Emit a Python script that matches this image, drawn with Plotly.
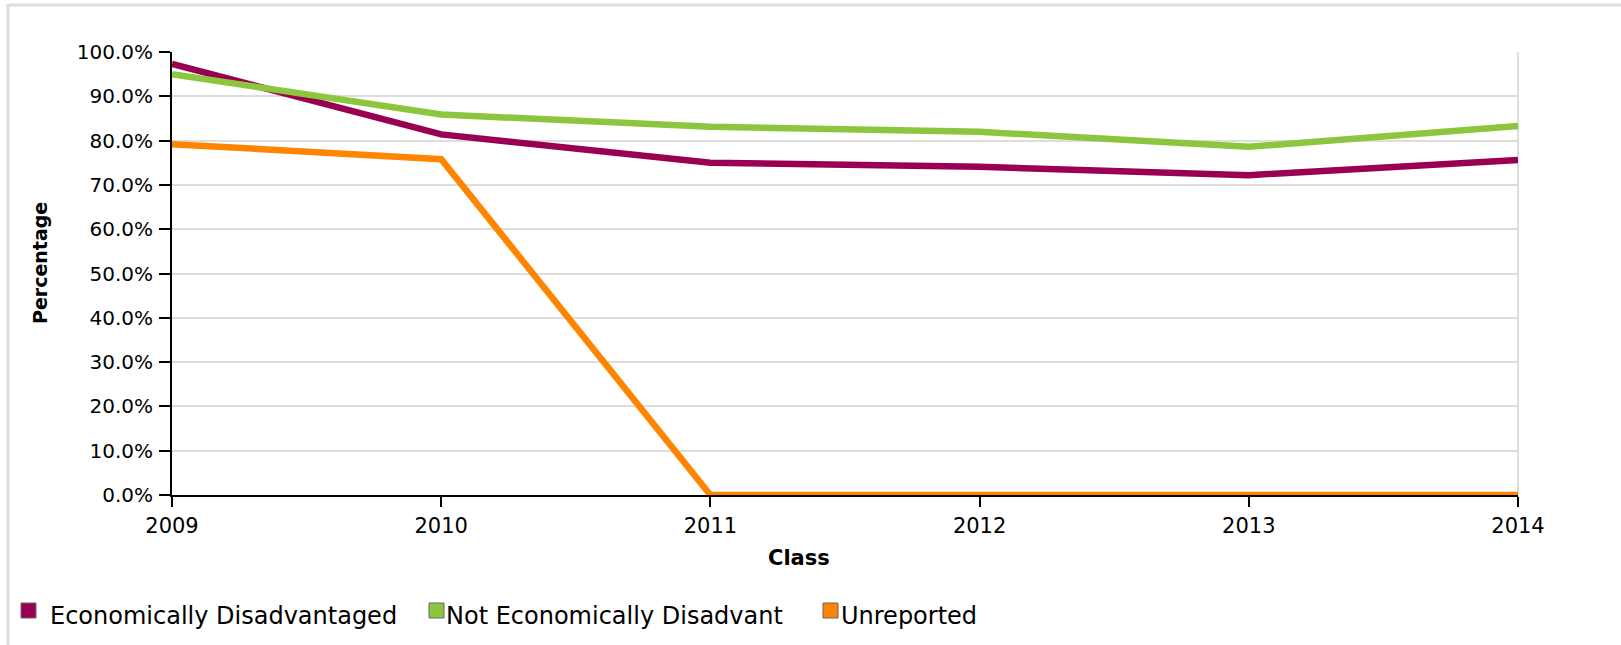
import plotly.graph_objects as go

years = [2009, 2010, 2011, 2012, 2013, 2014]
econ_dis = [97.3, 81.4, 75.0, 74.1, 72.2, 75.6]
not_econ_dis = [95.0, 85.9, 83.1, 82.0, 78.6, 83.3]
unreported = [79.2, 75.8, 0.0, 0.0, 0.0, 0.0]

series_names = ["Economically Disadvantaged", "Not Economically Disadvant", "Unreported"]
series_colors = ["#990052", "#8cc63f", "#ff8400"]
y_ticks = [0, 10, 20, 30, 40, 50, 60, 70, 80, 90, 100]

W, H = 1621, 645
L, R, T, B = 172, 103, 52, 150
pw, ph = W - L - R, H - T - B

def px_x(p):
    return (p - L) / pw

def px_y(p):
    return (H - B - p) / ph

fig = go.Figure()
for name, vals, col in zip(series_names, [econ_dis, not_econ_dis, unreported], series_colors):
    fig.add_trace(go.Scatter(x=years, y=vals, mode="lines", name=name,
                             line=dict(color=col, width=6.5), cliponaxis=False,
                             showlegend=False, hoverinfo="skip"))

font_main = "DejaVu Sans"

# manual legend (square swatch + label), positions in page pixels
legend_sq_left = [21, 429, 823]
legend_txt_left = [48, 444, 839]
sq = 15
sq_top = 603
txt_mid = 616

shapes = [
    dict(type="line", xref="paper", yref="paper", x0=1, x1=1, y0=0, y1=1,
         line=dict(color="#dddddd", width=2), layer="below"),
    dict(type="line", xref="paper", yref="paper", x0=px_x(8), x1=px_x(8),
         y0=px_y(4), y1=px_y(660), line=dict(color="#dddddd", width=3)),
    dict(type="line", xref="paper", yref="paper", x0=px_x(8), x1=px_x(1640),
         y0=px_y(5), y1=px_y(5), line=dict(color="#dddddd", width=3)),
]
annotations = [
    dict(text="<b>Percentage</b>", textangle=-90, xref="paper", yref="paper",
         x=px_x(40), y=px_y(263), showarrow=False, font=dict(size=19),
         xanchor="center", yanchor="middle"),
    dict(text="<b>Class</b>", xref="paper", yref="paper",
         x=px_x(799), y=px_y(558), showarrow=False, font=dict(size=21),
         xanchor="center", yanchor="middle"),
]
for name, col, sl, tl in zip(series_names, series_colors, legend_sq_left, legend_txt_left):
    shapes.append(dict(type="rect", xref="paper", yref="paper",
                       x0=px_x(sl), x1=px_x(sl + sq), y0=px_y(sq_top + sq), y1=px_y(sq_top),
                       fillcolor=col, line=dict(color="#666666", width=1)))
    annotations.append(dict(text=name, xref="paper", yref="paper", x=px_x(tl), y=px_y(txt_mid),
                            xanchor="left", yanchor="middle", showarrow=False,
                            font=dict(family=font_main, size=24, color="black")))

fig.update_layout(
    width=W, height=H,
    margin=dict(l=L, r=R, t=T, b=B),
    paper_bgcolor="white", plot_bgcolor="white",
    font=dict(family=font_main, size=20, color="black"),
    showlegend=False,
    xaxis=dict(range=[2009, 2014], tickvals=years, ticktext=[str(y) for y in years],
               showgrid=False, zeroline=False, showline=True, linecolor="black", linewidth=2,
               ticks="outside", ticklen=10, tickwidth=2, tickcolor="black",
               ticklabelstandoff=1, tickfont=dict(size=21)),
    yaxis=dict(range=[0, 100], tickvals=y_ticks, ticktext=[f"{v:.1f}%" for v in y_ticks],
               showgrid=True, gridcolor="#dddddd", gridwidth=2, zeroline=False,
               showline=True, linecolor="black", linewidth=2,
               ticks="outside", ticklen=11, tickwidth=2, tickcolor="black",
               ticklabelstandoff=2, tickfont=dict(size=20)),
    annotations=annotations,
    shapes=shapes,
)

fig.write_html("out.html", config={"displayModeBar": False},
               post_script="document.body.style.margin='0';")
